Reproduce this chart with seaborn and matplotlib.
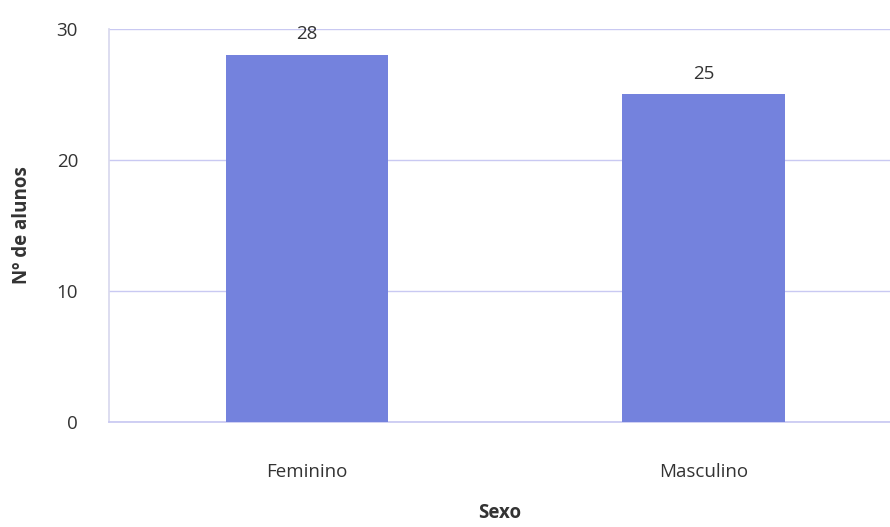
import matplotlib
matplotlib.use("Agg")
import matplotlib.pyplot as plt
import seaborn as sns
import pandas as pd

categorias = ["Feminino", "Masculino"]
alunos = [28, 25]
yticks = [0, 10, 20, 30]

sns.set_theme(style="white")
plt.rcParams["font.family"] = ["Open Sans", "DejaVu Sans"]

df = pd.DataFrame({"Sexo": categorias, "Nº de alunos": alunos})

fig = plt.figure(figsize=(8.9, 5.27), dpi=100)
ax = fig.add_axes([0.122, 0.2, 0.878, 0.745])

sns.barplot(data=df, x="Sexo", y="Nº de alunos", color="#7482DD",
            saturation=1, width=0.41, linewidth=0, ax=ax, zorder=3)

ax.set_ylim(0, 30)
ax.set_xlim(-0.5, 1.47)
ax.set_yticks(yticks)
ax.yaxis.grid(True, color="#C9C9F2", linewidth=1.0, zorder=0)
ax.set_axisbelow(True)

for s in ["top", "right"]:
    ax.spines[s].set_visible(False)
ax.spines["left"].set_color("#D8D8EE")
ax.spines["bottom"].set_color("#C9C9F2")

ax.tick_params(axis="y", labelsize=13.5, colors="#333333", pad=22, length=0)
ax.tick_params(axis="x", labelsize=13.5, colors="#333333", pad=30, length=0)

for i, v in enumerate(alunos):
    ax.text(i, v + 0.9, str(v), ha="center", va="bottom",
            fontsize=13.5, color="#333333")

ax.set_xlabel("Sexo", fontsize=13.5, fontweight="bold", color="#333333", labelpad=16)
ax.set_ylabel("Nº de alunos", fontsize=13.5, fontweight="bold", color="#333333", labelpad=18)

fig.savefig("out.png", dpi=100, facecolor="white")
